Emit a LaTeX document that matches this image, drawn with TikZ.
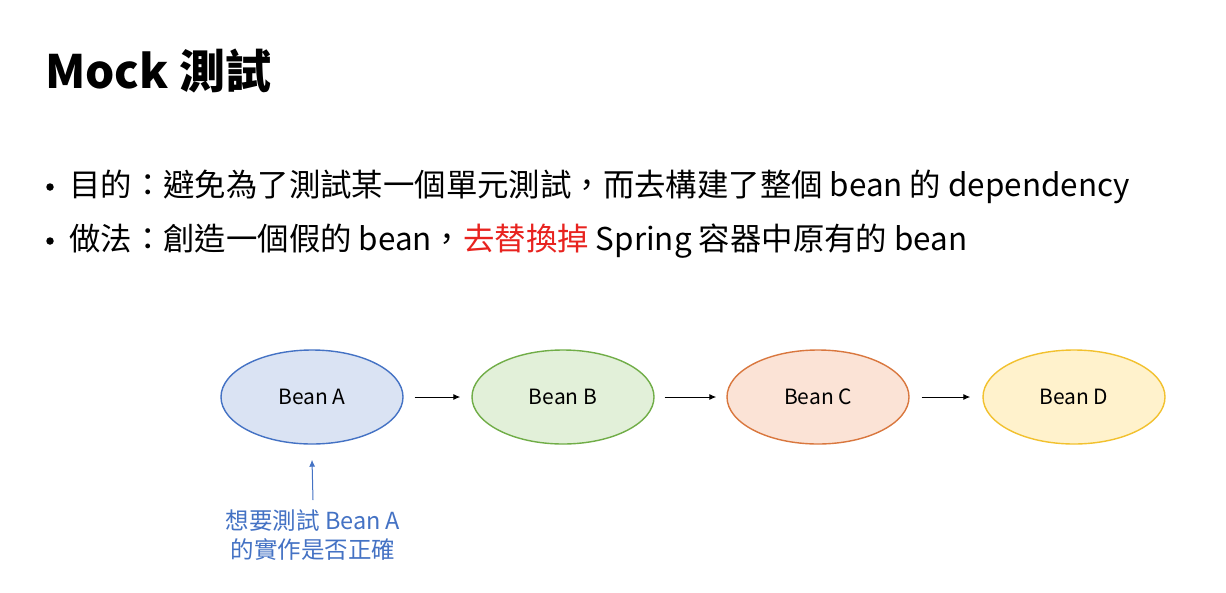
\documentclass[tikz,border=0pt]{standalone}
\usepackage{fontspec}
\setmainfont{Noto Sans CJK TC}
\usetikzlibrary{shapes.geometric,arrows.meta}
\definecolor{txtblue}{HTML}{4472C4}
\definecolor{hotred}{HTML}{E8231F}
\definecolor{aline}{HTML}{4472C4}\definecolor{afill}{HTML}{DAE3F3}
\definecolor{bline}{HTML}{70AD47}\definecolor{bfill}{HTML}{E2F0D9}
\definecolor{cline}{HTML}{D9773E}\definecolor{cfill}{HTML}{FBE3D6}
\definecolor{dline}{HTML}{F2C12E}\definecolor{dfill}{HTML}{FFF2CC}
\begin{document}
\begin{tikzpicture}[x=1pt,y=-1pt,
  bean/.style={ellipse,minimum width=182pt,minimum height=94pt,line width=1.4pt,
    font=\fontsize{21}{25}\selectfont,inner sep=0pt},
  flow/.style={-{Latex[length=7pt,width=6pt]},line width=1pt},
  dot/.style={circle,fill,inner sep=0pt,minimum size=7.5pt},
  para/.style={anchor=base west,inner sep=0pt,font=\fontsize{31.4}{36}\selectfont}]
\useasboundingbox[fill=white] (0,0) rectangle (1226,592);
% heading
\node[anchor=base west,inner sep=0pt,font=\fontsize{46}{54}\selectfont\bfseries] (title) at (45,88) {Mock 測試};
% bullet points
\node[dot] (d1) at (50,187) {};
\node[para] (b1) at (69,196)
  {目的：避免為了測試某一個單元測試，而去構建了整個 bean 的 dependency};
\node[dot] (d2) at (50,241) {};
\node[para] (b2) at (69,250)
  {做法：創造一個假的 bean，\textcolor{hotred}{去替換掉} Spring 容器中原有的 bean};
% beans
\node[bean,draw=aline,fill=afill] (A) at (312,397) {Bean A};
\node[bean,draw=bline,fill=bfill] (B) at (563,397) {Bean B};
\node[bean,draw=cline,fill=cfill] (C) at (818,397) {Bean C};
\node[bean,draw=dline,fill=dfill] (D) at (1074,397) {Bean D};
\draw[flow] ([xshift=11pt]A.east) -- ([xshift=-11pt]B.west);
\draw[flow] ([xshift=10pt]B.east) -- ([xshift=-10pt]C.west);
\draw[flow] ([xshift=12pt]C.east) -- ([xshift=-12pt]D.west);
% note on Bean A
\node[align=center,text=txtblue,inner sep=0pt,font=\fontsize{23.5}{29}\selectfont,anchor=north] (note) at (313,509)
  {想要測試 Bean A\\的實作是否正確};
\draw[flow,draw=txtblue,line width=1pt] ([yshift=9pt]note.north) -- ([yshift=-15pt]A.south);
\end{tikzpicture}
\end{document}
